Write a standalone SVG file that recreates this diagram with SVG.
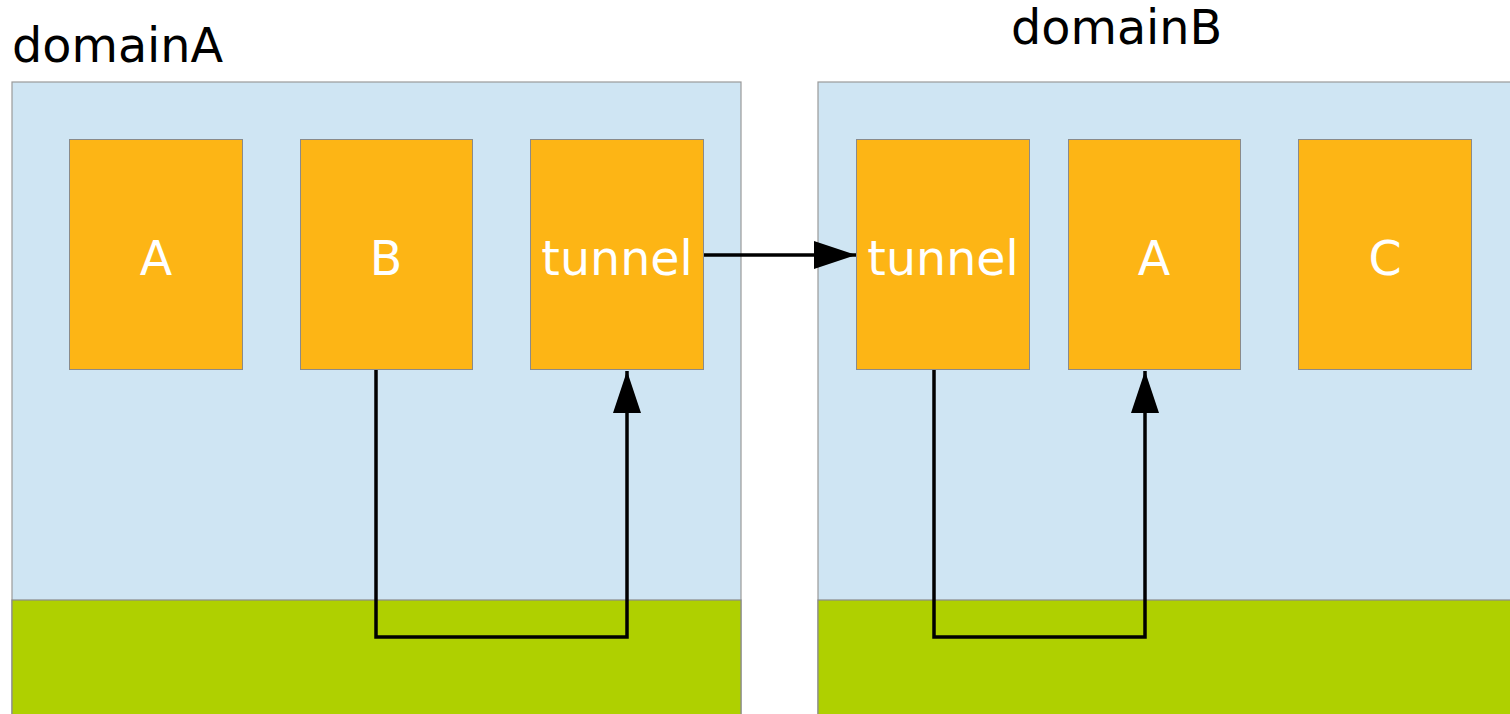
<svg xmlns="http://www.w3.org/2000/svg" width="1510" height="714" viewBox="0 0 1510 714">
<style>
.dom{fill:#cfe5f3;stroke:#9a9a9a;stroke-width:1.2}
.band{fill:#afd000;stroke:#8a8a8a;stroke-width:1.2}
.node{fill:#fdb515;stroke:#8a8a8a;stroke-width:1}
.lbl{font-family:"DejaVu Sans",sans-serif;font-size:47.5px;fill:#ffffff;text-anchor:middle}
.title{font-family:"DejaVu Sans",sans-serif;font-size:47.7px;fill:#000}
.conn{fill:none;stroke:#000;stroke-width:3.5}
</style>
<defs>
<marker id="ah" markerUnits="userSpaceOnUse" markerWidth="44" markerHeight="30" refX="42" refY="15" orient="auto">
<path d="M0,1 L42,15 L0,29 Z" fill="#000"/>
</marker>
</defs>
<g id="domainA">
<rect class="dom" x="12" y="82" width="729" height="640"/>
<rect class="band" x="12" y="600" width="729" height="122"/>
<text class="title" x="12" y="62">domainA</text>
</g>
<g id="domainB">
<rect class="dom" x="818" y="82" width="700" height="640"/>
<rect class="band" x="818" y="600" width="700" height="122"/>
<text class="title" x="1011" y="44">domainB</text>
</g>
<g id="nodeA1"><rect class="node" x="69.5" y="139.5" width="173" height="230"/><text class="lbl" x="156" y="275">A</text></g>
<g id="nodeB1"><rect class="node" x="300.5" y="139.5" width="172" height="230"/><text class="lbl" x="386" y="275">B</text></g>
<g id="tunnelA"><rect class="node" x="530.5" y="139.5" width="173" height="230"/><text class="lbl" x="617" y="275">tunnel</text></g>
<g id="tunnelB"><rect class="node" x="856.5" y="139.5" width="173" height="230"/><text class="lbl" x="943" y="275">tunnel</text></g>
<g id="nodeA2"><rect class="node" x="1068.5" y="139.5" width="172" height="230"/><text class="lbl" x="1154" y="275">A</text></g>
<g id="nodeC"><rect class="node" x="1298.5" y="139.5" width="173" height="230"/><text class="lbl" x="1385" y="275">C</text></g>
<g id="connectors">
<path class="conn" d="M376,370 L376,637 L627,637 L627,371" marker-end="url(#ah)"/>
<path class="conn" d="M934,370 L934,637 L1145,637 L1145,371" marker-end="url(#ah)"/>
<path class="conn" d="M704,255 L856,255" marker-end="url(#ah)"/>
</g>
</svg>
